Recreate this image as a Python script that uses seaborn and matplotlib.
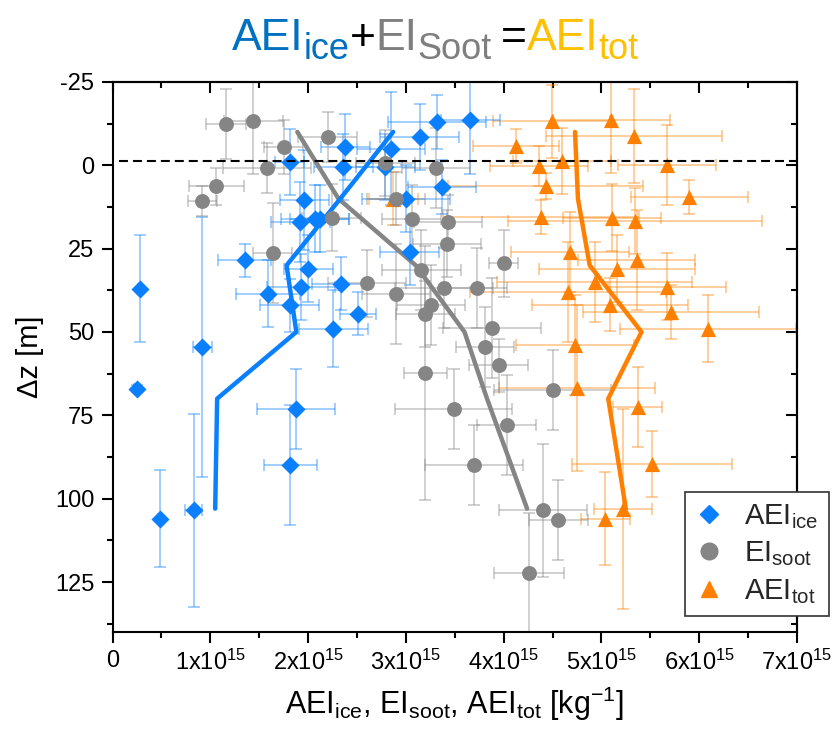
import numpy as np
import seaborn as sns
import matplotlib.pyplot as plt
from matplotlib.lines import Line2D
from matplotlib.ticker import MultipleLocator, FuncFormatter

# AEI_ice points  (x in units of 1e15 kg^-1, dz in m)
ice_x = [0.28, 0.25, 0.92, 0.49, 0.83, 1.82, 1.88, 2.26, 2.51, 2.34, 2.00, 1.93, 1.81, 1.59, 1.35,
         1.92, 2.07, 2.12, 1.96, 1.81, 2.36, 2.38, 2.85, 3.14, 3.32, 3.66, 2.79, 3.37, 3.00, 3.04]
ice_dz = [37, 67, 54.5, 106, 103.5, 90, 73, 49, 44.5, 35.5, 31, 36.5, 42, 38.5, 28.5,
          17, 16, 16, 10.5, -1, 0.5, -5.5, -5, -8.5, -13, -13.5, 0.5, 6.5, 10, 26]
ice_xerr = [0.02, 0.03, 0.10, 0.02, 0.09, 0.27, 0.40, 0.35, 0.18, 0.30, 0.25, 0.35, 0.30, 0.33, 0.27,
            0.30, 0.35, 0.30, 0.25, 0.15, 0.30, 0.25, 0.35, 0.40, 0.50, 0.30, 0.30, 0.35, 0.45, 0.30]
ice_yerr = [16, 1, 39, 14.5, 29, 18, 12, 11.5, 6.5, 8, 10, 10, 8, 10, 5,
            12, 10, 10, 15, 10, 10, 10, 17, 10, 8, 16, 10, 8, 10, 10]

# EI_soot points
soot_x = [1.16, 1.44, 1.75, 1.58, 1.06, 0.92, 1.64, 2.20, 2.79, 3.31, 2.90, 3.06, 3.43, 3.42, 3.16,
          2.24, 2.60, 2.90, 3.39, 3.26, 3.20, 3.20, 3.49, 3.73, 3.88, 3.81, 3.95, 4.50, 4.03, 4.00,
          3.70, 4.40, 4.56, 4.26]
soot_dz = [-12.5, -13.3, -5.5, 0.7, 6.3, 10.7, 26.3, -8.5, -0.7, 0.7, 10, 16, 17, 23.5, 31.3,
           15.7, 35.4, 38.6, 36.9, 42, 44.6, 62.3, 73, 36.8, 48.9, 54.6, 60, 67.3, 78, 29.4,
           90, 103.5, 106.4, 122.4]
soot_xerr = [0.20, 0.30, 0.20, 0.45, 0.28, 0.15, 0.20, 0.30, 0.30, 0.35, 0.30, 0.30, 0.35, 0.35, 0.40,
             0.30, 0.40, 0.35, 0.50, 0.35, 0.30, 0.22, 0.60, 0.30, 0.50, 0.30, 0.30, 0.60, 0.30, 0.15,
             0.50, 0.45, 0.30, 0.36]
soot_yerr = [10.5, 16, 8, 7.5, 5.5, 4.5, 15, 7.5, 10, 12, 8, 10, 8, 10, 12,
             10, 10, 15, 12, 12, 10, 38, 12, 12, 15, 12, 8, 12, 15, 10,
             12, 20, 12, 18]

# AEI_tot points
tot_x = [4.49, 5.10, 5.33, 4.13, 4.36, 4.60, 5.67, 4.43, 5.90, 4.38, 5.11, 5.34, 4.68, 5.36, 5.16,
         4.93, 4.66, 5.67, 5.09, 5.71, 6.09, 4.73, 4.75, 5.37, 5.52, 5.22, 5.04, 2.87]
tot_dz = [-13.2, -13.7, -8.8, -5.8, 0.3, -1.3, 0, 6.2, 9.5, 15.5, 15.7, 16.7, 26, 28.3, 31,
          35, 38, 36.4, 41.8, 44, 49, 54, 66.8, 72.6, 89.6, 103, 106, 10]
tot_xerr = [0.60, 0.60, 0.90, 0.44, 0.50, 0.50, 0.50, 1.00, 0.60, 1.00, 0.50, 1.30, 0.60, 0.60, 0.80,
            1.00, 1.00, 0.60, 0.80, 0.90, 0.90, 0.60, 0.80, 0.25, 0.82, 0.30, 0.25, 0.25]
tot_yerr = [11, 16, 14, 5, 6, 10, 12, 4, 5, 5, 10, 10, 12, 15, 10,
            12, 15, 10, 8, 8, 10, 15, 25, 12, 10, 30, 14, 8]

# binned mean profiles
mean_dz = [-10, 10, 30, 50, 70, 103]
ice_mean = [2.87, 2.33, 1.78, 1.88, 1.07, 1.05]
soot_mean = [1.89, 2.31, 3.10, 3.60, 3.83, 4.24]
tot_mean = [4.73, 4.76, 4.88, 5.41, 5.07, 5.25]

c_ice = '#0a80ff'
c_soot = '#858585'
c_tot = '#ff8000'

sns.set_theme(style='ticks')
plt.rcParams['font.family'] = ['Liberation Sans', 'DejaVu Sans']
plt.rcParams['mathtext.fontset'] = 'custom'
plt.rcParams['mathtext.rm'] = 'Liberation Sans'
plt.rcParams['mathtext.it'] = 'Liberation Sans:italic'
plt.rcParams['mathtext.bf'] = 'Liberation Sans:bold'
plt.rcParams['axes.unicode_minus'] = False

fig, ax = plt.subplots(figsize=(8.36, 7.38), dpi=100)
fig.subplots_adjust(left=0.1346, right=0.9533, top=0.889, bottom=0.1436)

series = [
    (tot_x, tot_dz, tot_xerr, tot_yerr, c_tot, '^', 120),
    (ice_x, ice_dz, ice_xerr, ice_yerr, c_ice, 'D', 85),
    (soot_x, soot_dz, soot_xerr, soot_yerr, c_soot, 'o', 115),
]
for x, y, xe, ye, c, m, s in series:
    ax.errorbar(x, y, xerr=xe, yerr=ye, fmt='none', ecolor=c, alpha=0.45,
                elinewidth=1.2, capsize=4.5, capthick=1.2, zorder=2)

for prof, c in [(soot_mean, c_soot), (ice_mean, c_ice), (tot_mean, c_tot)]:
    sns.lineplot(x=prof, y=mean_dz, sort=False, orient='y', color=c, lw=3.2,
                 ax=ax, zorder=3, legend=False)

for x, y, xe, ye, c, m, s in series:
    sns.scatterplot(x=x, y=y, marker=m, s=s, color=c, edgecolor=c, linewidth=0,
                    ax=ax, zorder=4, legend=False)

ax.plot([0.07, 7], [-1.2, -1.2], color='black', lw=1.5, ls=(0, (4.3, 2.4)), zorder=5)

ax.set_xlim(0, 7)
ax.set_ylim(140, -25)
ax.xaxis.set_major_locator(MultipleLocator(1))
ax.xaxis.set_minor_locator(MultipleLocator(0.5))
ax.yaxis.set_major_locator(MultipleLocator(25))
ax.yaxis.set_minor_locator(MultipleLocator(12.5))
ax.xaxis.set_major_formatter(FuncFormatter(
    lambda v, p: '0' if abs(v) < 1e-9 else f'{int(round(v))}x10$^{{15}}$'))
ax.tick_params(which='major', direction='out', length=8, width=1.5, labelsize=17,
               color='black', labelcolor='black', pad=5)
ax.tick_params(which='minor', direction='out', length=4.5, width=1.5, color='black')
for sp in ax.spines.values():
    sp.set_visible(True)
    sp.set_color('black')
    sp.set_linewidth(1.5)

# inward ticks on top and right
secx = ax.secondary_xaxis('top')
secx.xaxis.set_major_locator(MultipleLocator(1))
secx.xaxis.set_minor_locator(MultipleLocator(0.5))
secx.tick_params(which='major', direction='in', length=8, width=1.5, labeltop=False, color='black')
secx.tick_params(which='minor', direction='in', length=4.5, width=1.5, color='black')
secy = ax.secondary_yaxis('right')
secy.yaxis.set_major_locator(MultipleLocator(25))
secy.yaxis.set_minor_locator(MultipleLocator(12.5))
secy.tick_params(which='major', direction='in', length=8, width=1.5, labelright=False, color='black')
secy.tick_params(which='minor', direction='in', length=4.5, width=1.5, color='black')
for sa in (secx, secy):
    for sp in sa.spines.values():
        sp.set_color('black')
        sp.set_linewidth(1.5)

ax.set_ylabel('Δz [m]', fontsize=21, labelpad=8, color='black')
ax.set_xlabel(r'AEI$_{\mathrm{ice}}$, EI$_{\mathrm{soot}}$, AEI$_{\mathrm{tot}}$ [kg$^{\mathrm{-1}}$]',
              fontsize=22, labelpad=7, color='black')

handles = [
    Line2D([], [], ls='none', marker='D', ms=9, color=c_ice),
    Line2D([], [], ls='none', marker='o', ms=12, color=c_soot),
    Line2D([], [], ls='none', marker='^', ms=12, color=c_tot),
]
labels = [r'AEI$_{\mathrm{ice}}$', r'EI$_{\mathrm{soot}}$', r'AEI$_{\mathrm{tot}}$']
leg = ax.legend(handles, labels, loc='lower right', bbox_to_anchor=(0.9916, 0.1653),
                bbox_transform=fig.transFigure, fontsize=21, frameon=True, fancybox=False,
                framealpha=1, edgecolor='#333333', handlelength=1.0, handletextpad=0.7,
                labelspacing=0.3, borderpad=0.35, borderaxespad=0)
leg.get_frame().set_linewidth(1.2)
leg.set_zorder(10)

# coloured title built from pieces
renderer = fig.canvas.get_renderer()
pieces = [('AEI', '#0070c0', 32, 0), ('ice', '#0070c0', 26, -9), ('+', 'black', 32, 0),
          ('EI', '#7f7f7f', 32, 0), ('Soot', '#7f7f7f', 26, -9), ('\u2009', 'black', 32, 0),
          ('=', 'black', 32, 0), ('AEI', '#ffc000', 32, 0), ('tot', '#ffc000', 26, -9)]
texts = []
for s, c, fs, dy in pieces:
    t = fig.text(0, 0, s, color=c, fontsize=fs, ha='left', va='baseline')
    texts.append((t, dy))
widths = [t.get_window_extent(renderer).width for t, _ in texts]
xpos = 435.5 - sum(widths) / 2
for (t, dy), w in zip(texts, widths):
    t.set_position((xpos / 836, (738 - 50 + dy) / 738))
    xpos += w

fig.savefig('out.png', dpi=100)
